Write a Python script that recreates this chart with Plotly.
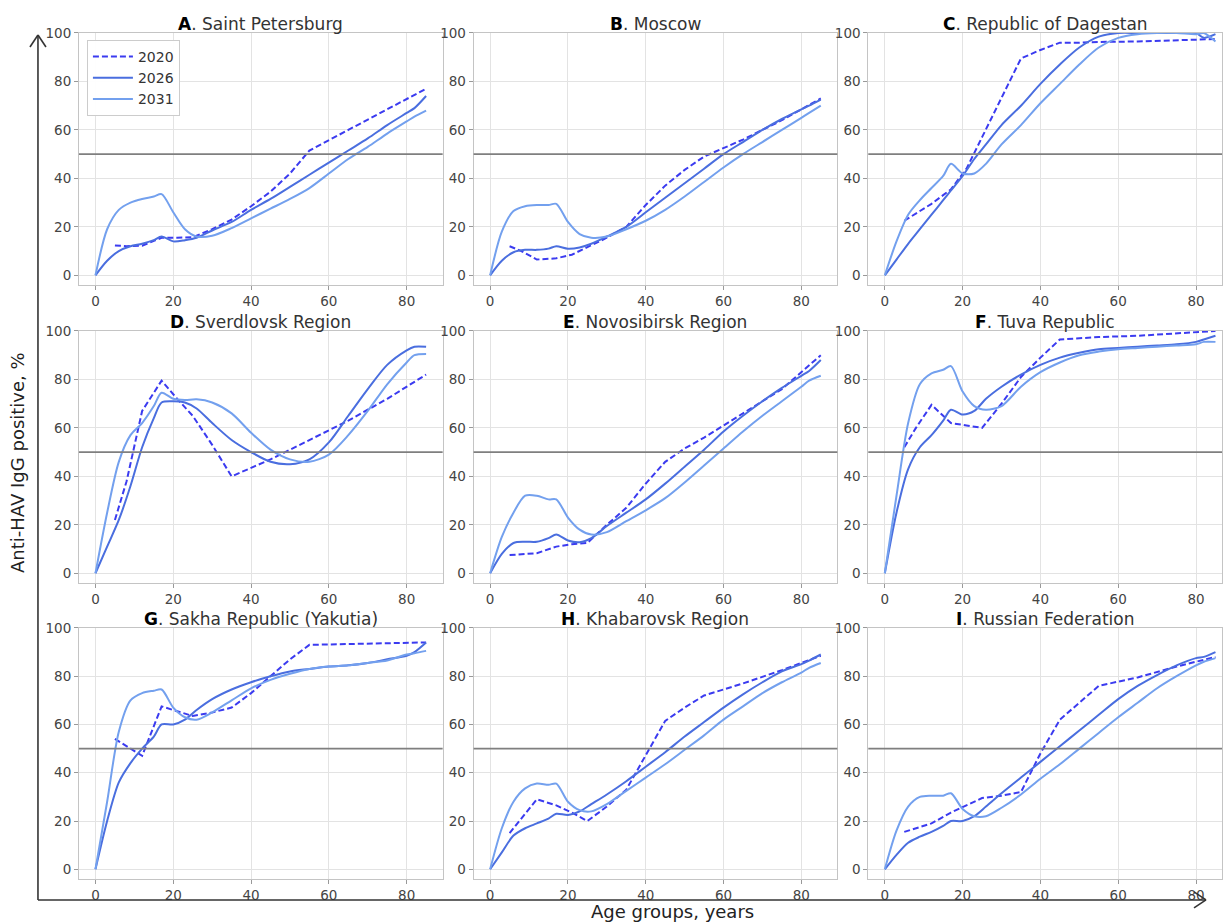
import plotly.graph_objects as go

W, H = 1223, 922

AGES = [0, 3, 6, 9, 12, 15, 17, 20, 23, 26, 30, 35, 40, 45, 50, 55, 60, 65, 70, 75, 80, 82, 85]
AGES_2020 = [5, 8, 12, 17, 21, 25, 30, 35, 40, 45, 50, 55, 65, 75, 85]

X_TICKS = [0, 20, 40, 60, 80]
Y_TICKS = [0, 20, 40, 60, 80, 100]
YEARS = ["2020", "2026", "2031"]

LETTERS = ["A", "B", "C", "D", "E", "F", "G", "H", "I"]
REGIONS = ["Saint Petersburg", "Moscow", "Republic of Dagestan",
           "Sverdlovsk Region", "Novosibirsk Region", "Tuva Republic",
           "Sakha Republic (Yakutia)", "Khabarovsk Region", "Russian Federation"]

SPB_2020 = [12.3, 12, 12.2, 15.5, 15.5, 15.7, 19, 23, 28.5, 34.5, 42, 51.5, 60, 68.5, 77]
SPB_2026 = [0, 6, 10, 12, 13, 14.5, 16, 14, 14.5, 15.5, 18.5, 22, 27, 31.5, 36.5, 41.5, 46.5, 51.5, 56.5, 62, 67, 69, 74]
SPB_2031 = [0, 19, 27, 30, 31.5, 32.5, 33.5, 26, 19, 16, 16.3, 19.5, 23.5, 27.5, 31.5, 36, 42, 48, 53, 58.5, 63.5, 65.5, 68]

MOS_2020 = [12, 10, 6.5, 7, 8.5, 11.5, 15.5, 20, 29, 37, 43.5, 49, 56, 64, 73]
MOS_2026 = [0, 6, 9.5, 10.5, 10.5, 11, 12, 11, 11.5, 13, 16, 20, 26, 32, 38, 44, 50, 55, 60, 64.5, 68.5, 70, 72.5]
MOS_2031 = [0, 18, 26.5, 28.5, 29, 29, 29.5, 22, 17, 15.5, 16, 19, 22.5, 27, 32.5, 38.5, 44.5, 50, 55, 60, 65, 67, 70]

DAG_2020 = [22.5, 25.5, 29.5, 35.5, 44, 57, 73, 89.5, 93, 96, 96, 96.3, 96.5, 97, 97.5]
DAG_2026 = [0, 6.5, 13, 19, 25, 31, 35, 41, 48, 54, 62, 70, 79, 87, 94, 98.5, 100, 100, 100, 100, 100, 98, 99.5]
DAG_2031 = [0, 14, 25, 31, 36, 41, 46, 42, 42, 46, 54, 62, 71, 79, 87, 94, 98, 99.5, 100, 100, 99.5, 100, 96.5]

SVE_2020 = [22, 38, 67, 79.5, 72, 65, 53, 40, 43.5, 47, 51, 55, 63, 72, 82]
SVE_2026 = [0, 11, 22, 36, 52, 64, 70.5, 71, 70.5, 68, 62, 55, 50, 46, 45, 47, 54, 65, 76, 86, 92, 93.5, 93.5]
SVE_2031 = [0, 25, 46, 57, 62, 69, 74.5, 72, 71.5, 71.8, 70.5, 66, 58, 51, 47, 46, 49, 57, 67, 78, 87, 90, 90.5]

NOV_2020 = [7.5, 7.8, 8.3, 11, 12, 12.5, 20, 27, 37, 46, 51.5, 56, 66, 76, 90]
NOV_2026 = [0, 8, 12.5, 13, 13, 14.5, 16, 13.5, 12.8, 14.5, 19.5, 25, 30.5, 37, 44, 51, 58.5, 65, 71, 76.5, 81.5, 83.5, 88]
NOV_2031 = [0, 15, 25, 32, 32, 30.5, 30.5, 23, 18, 16, 17, 21.5, 26, 31, 37.5, 44.5, 51.5, 58.5, 65, 71, 77, 79.5, 81.5]

TUV_2020 = [52, 60, 69.5, 62, 61, 60, 70, 81, 89, 96.5, 97, 97.5, 98, 99, 100]
TUV_2026 = [0, 25, 43, 52, 57, 63, 67.5, 65.5, 67, 72, 77, 82, 86, 89, 91, 92.5, 93, 93.5, 94, 94.5, 95.5, 96.5, 98]
TUV_2031 = [0, 32, 62, 78, 82.5, 84, 85.5, 75, 69, 67.5, 69, 77, 83, 87, 90, 91.5, 92.5, 93, 93.5, 94, 94.5, 95.5, 95.5]

SAK_2020 = [54, 51, 47, 67.5, 65.5, 63.5, 65, 67, 73, 80, 87, 93, 93.3, 93.5, 94]
SAK_2026 = [0, 20, 36, 44, 50, 55, 60, 60, 62, 66, 70.5, 74.5, 77.5, 80, 82, 83, 84, 84.5, 85.5, 87, 88.5, 90, 94]
SAK_2031 = [0, 28, 57, 70, 73, 74, 74.5, 67, 63, 62, 65, 70, 75, 78.5, 81, 83, 84, 84.5, 85.5, 86.5, 89, 89.5, 90.5]

KHA_2020 = [15, 21, 29, 26.5, 23.5, 20, 26, 33, 47, 61.5, 67, 72, 77, 82.5, 88.5]
KHA_2026 = [0, 7, 14, 17, 19, 21, 23, 22.5, 24, 27, 31, 36.5, 42.5, 48.5, 55, 61, 67, 72.5, 77.5, 82, 85, 86.5, 89]
KHA_2031 = [0, 17, 28, 33.5, 35.5, 35, 35.5, 28, 24.5, 24, 27, 32.5, 38, 43.5, 49.5, 55.5, 62, 67.5, 73, 77.5, 81.5, 83.5, 85.5]

RUS_2020 = [15.5, 17, 19, 23.5, 26.5, 29.5, 30.5, 32, 48, 62, 69, 76, 79.5, 84, 88]
RUS_2026 = [0, 6, 11, 13.5, 15.5, 18, 20, 20, 22, 26, 31.5, 38, 44.5, 51, 57.5, 64, 70.5, 76, 80.5, 84.5, 87.5, 88, 90]
RUS_2031 = [0, 16, 26, 30, 30.5, 30.5, 31.5, 25, 22, 22, 25.5, 31, 37.5, 43.5, 50, 56.5, 63, 69, 75, 80, 84.5, 86, 87.5]

SERIES = [
    (SPB_2020, SPB_2026, SPB_2031), (MOS_2020, MOS_2026, MOS_2031), (DAG_2020, DAG_2026, DAG_2031),
    (SVE_2020, SVE_2026, SVE_2031), (NOV_2020, NOV_2026, NOV_2031), (TUV_2020, TUV_2026, TUV_2031),
    (SAK_2020, SAK_2026, SAK_2031), (KHA_2020, KHA_2026, KHA_2031), (RUS_2020, RUS_2026, RUS_2031),
]
THRESHOLD = 50

C2020 = "#3b3bf0"
C2026 = "#4a6edf"
C2031 = "#73a0ee"

# panel geometry (target pixels in the photographed page)
COL_X = [(79, 443), (474, 838), (869, 1223)]
ROW_Y = [(33, 285), (331, 583), (628, 879)]
PX_PER_UNIT = 364 / 93.5

FONT = "DejaVu Sans"


def PY(py):
    # vertical paper fraction for a target pixel row (compensates the page offset)
    return 1 - ((py - 8) / 0.9914) / H


def PX(px):
    return px / W


fig = go.Figure()
layout = {}
annotations = []
for i in range(9):
    r, c = divmod(i, 3)
    n = i + 1
    xa = "x" if n == 1 else f"x{n}"
    ya = "y" if n == 1 else f"y{n}"
    s20, s26, s31 = SERIES[i]
    fig.add_trace(go.Scatter(x=AGES_2020, y=s20, mode="lines", name=YEARS[0],
                             line=dict(color=C2020, width=2, dash="6px,3px"),
                             showlegend=(i == 0), xaxis=xa, yaxis=ya))
    fig.add_trace(go.Scatter(x=AGES, y=s26, mode="lines", name=YEARS[1],
                             line=dict(color=C2026, width=2, shape="spline", smoothing=0.8),
                             showlegend=(i == 0), xaxis=xa, yaxis=ya))
    fig.add_trace(go.Scatter(x=AGES, y=s31, mode="lines", name=YEARS[2],
                             line=dict(color=C2031, width=2, shape="spline", smoothing=0.8),
                             showlegend=(i == 0), xaxis=xa, yaxis=ya))
    x0, x1 = COL_X[c]
    y0, y1 = ROW_Y[r]
    xmax = -4.25 + (x1 - x0) / PX_PER_UNIT
    axcommon = dict(showgrid=True, gridcolor="#e3e3e3", gridwidth=1, zeroline=False,
                    showline=True, mirror=True, linecolor="#c4c4c4", linewidth=1,
                    ticks="outside", ticklen=4, tickcolor="#999",
                    tickfont=dict(family=FONT, size=13.5, color="#444"))
    layout[f"xaxis{n}"] = dict(axcommon, domain=[PX(x0), PX(x1)], range=[-4.25, xmax],
                               tickvals=X_TICKS, anchor=ya)
    layout[f"yaxis{n}"] = dict(axcommon, domain=[PY(y1), PY(y0)], range=[-4, 100],
                               tickvals=Y_TICKS, anchor=xa)
    fig.add_shape(type="line", xref=f"{xa} domain", yref=ya, x0=0, x1=1, y0=THRESHOLD, y1=THRESHOLD,
                  line=dict(color="#7f7f7f", width=1.6), layer="above")
    annotations.append(dict(
        text=f"<b style='color:#000'>{LETTERS[i]}</b><span style='color:#333'>. {REGIONS[i]}</span>",
        xref="paper", yref="paper", x=PX((x0 + min(x1, x0 + 364)) / 2), y=PY(y0),
        xanchor="center", yanchor="bottom", showarrow=False, yshift=-3,
        font=dict(family=FONT, size=17, color="#333")))

# outer axis labels
annotations.append(dict(text="Anti-HAV IgG positive, %", xref="paper", yref="paper",
                        x=PX(18), y=PY(462), textangle=-90, showarrow=False,
                        xanchor="center", yanchor="middle",
                        font=dict(family=FONT, size=18, color="#222")))
annotations.append(dict(text="Age groups, years", xref="paper", yref="paper",
                        x=PX(673), y=PY(912), showarrow=False,
                        xanchor="center", yanchor="middle",
                        font=dict(family=FONT, size=18, color="#222")))

# outer arrows (decoration)
ac = dict(color="#333", width=1.6)
shapes_px = [((38, 900), (38, 35)), ((30, 47), (38, 35)), ((46, 47), (38, 35)),
             ((38, 900), (1207, 900)), ((1195, 892), (1207, 900)), ((1195, 908), (1207, 900))]
for (a, b) in shapes_px:
    fig.add_shape(type="line", xref="paper", yref="paper",
                  x0=PX(a[0]), y0=PY(a[1]), x1=PX(b[0]), y1=PY(b[1]), line=ac)

fig.update_layout(**layout)
fig.update_layout(
    width=W, height=H, margin=dict(l=0, r=0, t=0, b=0),
    paper_bgcolor="white", plot_bgcolor="white",
    annotations=annotations,
    font=dict(family=FONT),
    legend=dict(x=PX(87), y=PY(40), xanchor="left", yanchor="top",
                bgcolor="rgba(255,255,255,0.95)", bordercolor="#cccccc", borderwidth=1,
                font=dict(family=FONT, size=14, color="#333"), tracegroupgap=0,
                itemwidth=40),
)
POST = (
    "document.documentElement.style.margin='0';"
    "document.body.style.margin='0';document.body.style.overflow='hidden';"
)
fig.write_html("out.html", config={"displayModeBar": False}, post_script=POST)
